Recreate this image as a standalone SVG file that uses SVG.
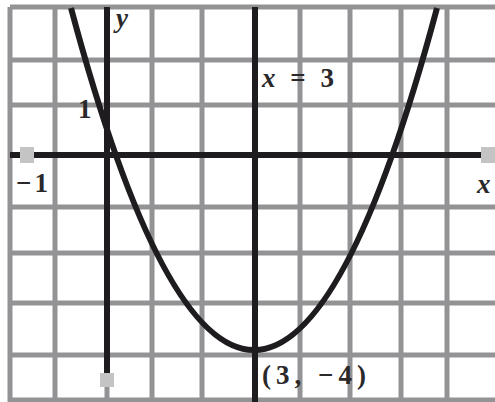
<svg xmlns="http://www.w3.org/2000/svg" width="495" height="402" viewBox="0 0 495 402">
<style>
.grid{stroke:#939395;stroke-width:5;fill:none}
.axis{stroke:#1e1c1e;stroke-width:6;fill:none}
.curve{stroke:#1e1c1e;stroke-width:6;fill:none}
.lbl{font-family:"Liberation Serif","Times New Roman",serif;font-size:27px;font-weight:bold;fill:#2a282a}
.it{font-style:italic}
</style>
<rect x="0" y="0" width="495" height="402" fill="#ffffff"/>
<g id="grid">
<path class="grid" d="M10,7 V402 M55,7 V402 M152,7 V402 M202,7 V402 M300,7 V402 M350,7 V402 M401,7 V402 M447,7 V402"/>
<path class="grid" d="M10,7 H495 M10,60 H495 M10,105 H495 M10,207 H495 M10,253 H495 M10,303 H495 M10,355 H495 M10,400 H495"/>
</g>
<g id="connectors">
<path id="x-axis" class="axis" d="M10,155 H495"/>
<path id="y-axis" class="axis" d="M107,7 V384"/>
<path class="grid" d="M107,384 V402"/>
<path id="sym-axis" class="axis" d="M255,7 V402"/>
<path id="parabola" class="curve" d="M71,8 Q254,692 437,8"/>
</g>
<g id="marks" fill="#c4c4c4">
<rect x="20" y="147" width="14" height="16"/>
<rect x="481" y="147" width="14" height="16"/>
<rect x="100" y="373" width="14" height="14"/>
</g>
<g id="labels">
<text class="lbl it" x="116" y="27">y</text>
<text class="lbl" x="78" y="118">1</text>
<text class="lbl" x="16" y="192" letter-spacing="3">−1</text>
<text class="lbl it" x="477" y="193">x</text>
<text class="lbl" x="262" y="87" word-spacing="8"><tspan class="it">x</tspan> = 3</text>
<text class="lbl" x="262" y="384" letter-spacing="5">(3, −4)</text>
</g>
</svg>
